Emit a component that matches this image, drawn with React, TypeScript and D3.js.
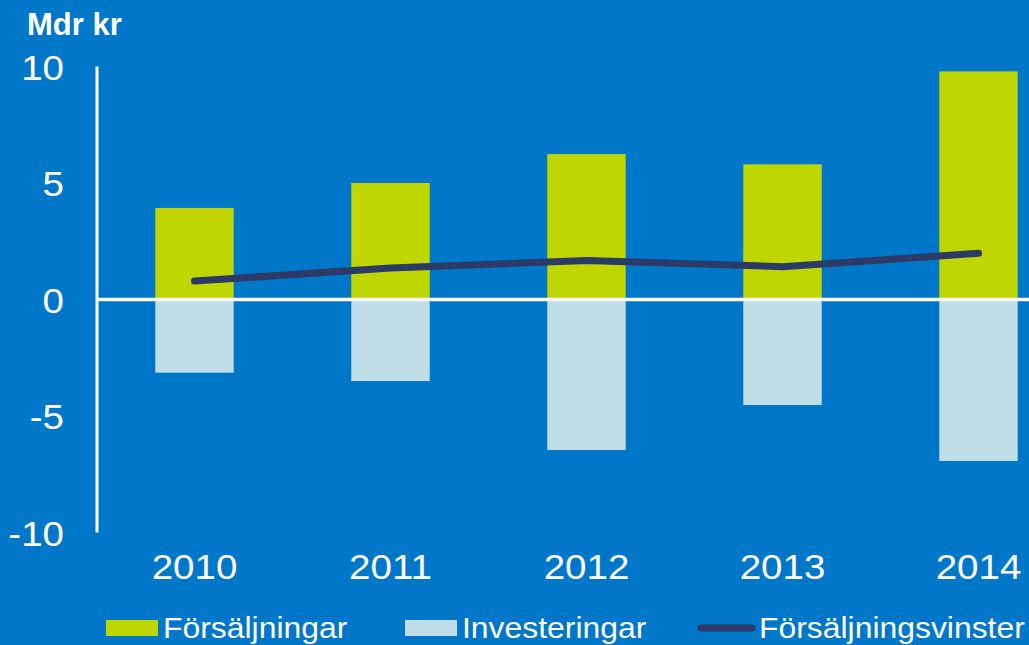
import React from "react";
import * as d3 from "d3";

const years = ["2010", "2011", "2012", "2013", "2014"];
const forsaljningar = [3.93, 5.0, 6.24, 5.8, 9.79];
const investeringar = [-3.14, -3.5, -6.46, -4.53, -6.93];
const vinster = [0.79, 1.35, 1.67, 1.41, 1.98];
const yTicks = [10, 5, 0, -5, -10];
const legendLabels = ["Försäljningar", "Investeringar", "Försäljningsvinster"];

const W = 1029;
const H = 645;
const BG = "#0077C8";
const GREEN = "#BFD600";
const LIGHT = "#C0DEE8";
const NAVY = "#2B3A67";
const FONT = "'Liberation Sans', Arial, sans-serif";
const SX = 1.1;

export default function App() {
  const x = d3.scaleBand<string>().domain(years).range([96.5, 1076.5]).paddingInner(0.6).paddingOuter(0.3);
  const y = d3.scaleLinear().domain([-10, 10]).range([532.5, 66.5]);
  const line = d3
    .line<number>()
    .x((_, i) => (x(years[i]) as number) + x.bandwidth() / 2)
    .y((d) => y(d));
  const axisX = 97;

  const txt = (tx: number, ty: number, s: string, size: number, anchor: string, key?: string, weight = "normal") => (
    <text
      key={key}
      transform={`translate(${tx},${ty}) scale(${SX},1)`}
      fontSize={size}
      fontFamily={FONT}
      fontWeight={weight}
      fill="#fff"
      textAnchor={anchor}
    >
      {s}
    </text>
  );

  return (
    <svg width={W} height={H} style={{ position: "absolute", left: 0, top: 0, display: "block" }}>
      <rect x={0} y={0} width={W} height={H} fill={BG} />
      <text x={27} y={35} fontSize={31} fontWeight="bold" fontFamily={FONT} fill="#fff">
        Mdr kr
      </text>
      {yTicks.map((t) => txt(64, y(t) + 13, String(t), 35, "end", "yt" + t))}
      {years.map((yr, i) => (
        <g key={yr}>
          <rect x={x(yr)} width={x.bandwidth()} y={y(forsaljningar[i])} height={y(0) - y(forsaljningar[i])} fill={GREEN} />
          <rect x={x(yr)} width={x.bandwidth()} y={y(0)} height={y(investeringar[i]) - y(0)} fill={LIGHT} />
        </g>
      ))}
      <line x1={axisX} x2={axisX} y1={y(10)} y2={y(-10)} stroke="#fff" strokeWidth={3} />
      <line x1={axisX} x2={W} y1={y(0)} y2={y(0)} stroke="#fff" strokeWidth={3.5} />
      <path d={line(vinster) || ""} fill="none" stroke={NAVY} strokeWidth={7} strokeLinecap="round" strokeLinejoin="round" />
      {years.map((yr) => txt((x(yr) as number) + x.bandwidth() / 2, 579, yr, 35, "middle", "xl" + yr))}
      <rect x={106} y={620} width={52} height={16} fill={GREEN} />
      {txt(163, 638, legendLabels[0], 29, "start")}
      <rect x={405} y={620} width={52} height={16} fill={LIGHT} />
      {txt(462, 638, legendLabels[1], 29, "start")}
      <line x1={701} x2={752} y1={628} y2={628} stroke={NAVY} strokeWidth={7} strokeLinecap="round" />
      {txt(759, 638, legendLabels[2], 29, "start")}
    </svg>
  );
}
